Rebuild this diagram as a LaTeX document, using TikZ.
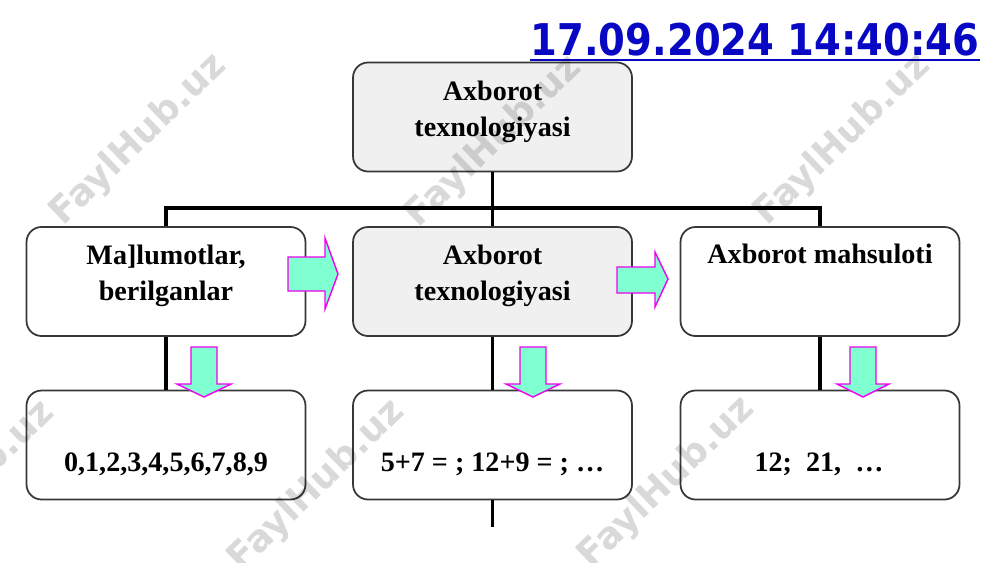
\documentclass[tikz,border=0pt]{standalone}
\usepackage{graphicx}
\usepackage{fontspec}
\setmainfont{Liberation Serif}
\newfontfamily\datefont{DejaVu Sans}
\usetikzlibrary{calc}
\definecolor{boxgray}{RGB}{240,240,240}
\definecolor{boxline}{RGB}{55,55,55}
\definecolor{arrowfill}{RGB}{128,255,208}
\definecolor{arrowline}{RGB}{240,0,240}
\definecolor{datecol}{RGB}{8,8,196}
\begin{document}
\begin{tikzpicture}[x=0.02cm,y=-0.02cm,
  box/.style={draw=boxline, line width=1pt, rounded corners=0.3cm,
    minimum width=5.58cm, minimum height=2.18cm, inner sep=0},
  graybox/.style={box, fill=boxgray},
  whitebox/.style={box, fill=white},
  lbl/.style={font=\bfseries\fontsize{16}{20.5}\selectfont, align=center, inner sep=0},
  conn/.style={line width=2.2pt, black},
  blockarrow/.style={fill=arrowfill, draw=arrowline, line width=0.8pt, line join=miter},
  wm/.style={font=\datefont\bfseries\fontsize{21}{21}\selectfont, text=black,
    text opacity=0.15, rotate=44, inner sep=0}
]
\useasboundingbox (0,0) rectangle (1000,562);

% boxes
\node[graybox]  (top) at (492.5,117) {};
\node[whitebox] (lm)  at (166,281.5) {};
\node[graybox]  (cm)  at (492.5,281.5) {};
\node[whitebox] (rm)  at (820,281.5) {};
\node[whitebox] (lb)  at (166,445) {};
\node[whitebox] (cb)  at (492.5,445) {};
\node[whitebox] (rb)  at (820,445) {};

% connectors
\coordinate (jc) at (492.5,208);
\coordinate (tail) at (492.5,527);
\draw[conn] (top.south) -- (jc);
\draw[conn] (lm.north) |- (jc) -| (rm.north);
\draw[conn] (jc) -- (cm.north);
\draw[conn] (lm.south) -- (lb.north);
\draw[conn] (cm.south) -- (cb.north);
\draw[conn] (rm.south) -- (rb.north);
\draw[conn] (cb.south) -- (tail);

% block arrows
\draw[blockarrow] (288,257) -- (325,257) -- (325,238) -- (338,274) -- (325,309) -- (325,291) -- (288,291) -- cycle;
\draw[blockarrow] (617,267) -- (655,267) -- (655,252) -- (668,279) -- (655,307) -- (655,293) -- (617,293) -- cycle;
\draw[blockarrow] (191,347) -- (217,347) -- (217,384) -- (231,384) -- (204,397) -- (177,384) -- (191,384) -- cycle;
\draw[blockarrow] (520,347) -- (546,347) -- (546,384) -- (560,384) -- (533,397) -- (506,384) -- (520,384) -- cycle;
\draw[blockarrow] (850,347) -- (876,347) -- (876,384) -- (889,384) -- (863,397) -- (837,384) -- (850,384) -- cycle;

% texts
\node[lbl] (t0) at (492.5,112) {Axborot\\texnologiyasi};
\node[lbl] (t1) at (166,276) {Ma]lumotlar,\\berilganlar};
\node[lbl] (t2) at (492.5,276) {Axborot\\texnologiyasi};
\node[lbl, anchor=base] (t3) at (820,263) {Axborot mahsuloti};
\node[lbl, anchor=base] (t4) at (166,471) {0,1,2,3,4,5,6,7,8,9};
\node[lbl, anchor=base] (t5) at (492.5,471) {5+7 = ; 12+9 = ; …};
\node[lbl, anchor=base] (t6) at (819,471.5) {12;\ \ 21,\ \ …};

% date stamp
\node[anchor=base, inner sep=0, text=datecol,
  font=\datefont\bfseries\fontsize{24.9}{30}\selectfont] (date) at (755,55)
  {\scalebox{0.88}[1]{17.09.2024 14:40:46}};
\draw[datecol, line width=1.5pt] ($(date.base west)+(0,5)$) -- ($(date.base east)+(0,5)$);

% watermarks
\node[wm] (w1) at (139,140) {FaylHub.uz};
\node[wm] (w2) at (494,142) {FaylHub.uz};
\node[wm] (w3) at (843,140) {FaylHub.uz};
\node[wm] (w4) at (-33,487) {FaylHub.uz};
\node[wm] (w5) at (317,486) {FaylHub.uz};
\node[wm] (w6) at (667,483) {FaylHub.uz};
\end{tikzpicture}
\end{document}
